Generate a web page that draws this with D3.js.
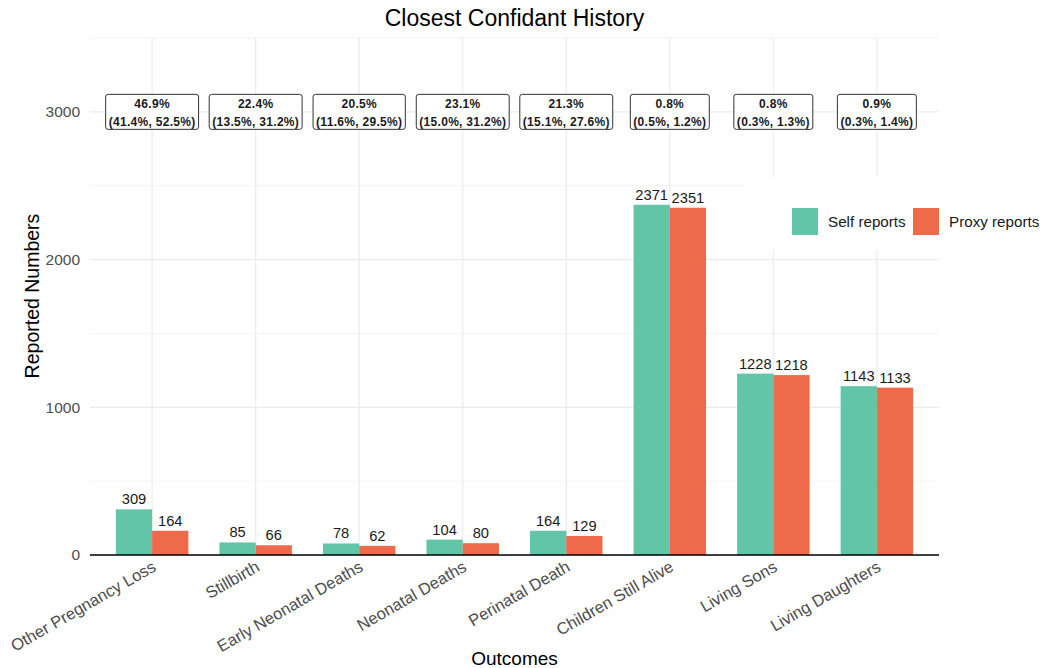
<!DOCTYPE html>
<html>
<head>
<meta charset="utf-8">
<script src="https://cdn.jsdelivr.net/npm/d3@7/dist/d3.min.js"></script>
<style>
  html, body { margin: 0; padding: 0; background: #fff; }
  svg { display: block; font-family: "Liberation Sans", Arial, sans-serif; }
</style>
</head>
<body>
<svg id="chart" width="1053" height="668"></svg>
<script>
// Outcome categories along the x axis
const outcomes = ["Other Pregnancy Loss", "Stillbirth", "Early Neonatal Deaths", "Neonatal Deaths",
  "Perinatal Death", "Children Still Alive", "Living Sons", "Living Daughters"];

// Reported counts per source
const selfReports = [309, 85, 78, 104, 164, 2371, 1228, 1143];
const proxyReports = [164, 66, 62, 80, 129, 2351, 1218, 1133];

// Agreement estimate and confidence interval for each outcome
const agreementPct = ["46.9%", "22.4%", "20.5%", "23.1%", "21.3%", "0.8%", "0.8%", "0.9%"];
const agreementCI = ["(41.4%, 52.5%)", "(13.5%, 31.2%)", "(11.6%, 29.5%)", "(15.0%, 31.2%)",
  "(15.1%, 27.6%)", "(0.5%, 1.2%)", "(0.3%, 1.3%)", "(0.3%, 1.4%)"];
const labelY = 3000;

const seriesNames = ["Self reports", "Proxy reports"];
const seriesColors = ["#62c5a8", "#ee6a4b"];
const yTicks = [0, 1000, 2000, 3000];
const yMinor = [500, 1500, 2500, 3500];

const svg = d3.select("#chart");
const W = 1053, H = 668;
const pLeft = 90, pRight = 939, pTop = 38, pBottom = 555;

// Discrete expansion: 0.6 of a step on each side
const x = d3.scaleBand().domain(outcomes).range([pLeft, pRight]).paddingInner(0).paddingOuter(0.1);
const cx = d => x(d) + x.bandwidth() / 2;

const y = d3.scaleLinear().domain([0, 3500]).range([pBottom, pTop]);

const dodge = x.bandwidth() * 0.7;
const xs = d3.scaleBand().domain(seriesNames).range([-dodge / 2, dodge / 2]);

// Grid
const grid = svg.append("g");
grid.selectAll(".minor").data(yMinor).join("line").attr("class", "minor")
  .attr("x1", pLeft).attr("x2", pRight)
  .attr("y1", d => y(d)).attr("y2", d => y(d))
  .attr("stroke", "#ebebeb").attr("stroke-width", 0.6);
grid.selectAll(".major").data(yTicks).join("line").attr("class", "major")
  .attr("x1", pLeft).attr("x2", pRight)
  .attr("y1", d => y(d)).attr("y2", d => y(d))
  .attr("stroke", "#ebebeb").attr("stroke-width", 1.2);
grid.selectAll(".vmajor").data(outcomes).join("line").attr("class", "vmajor")
  .attr("x1", d => cx(d)).attr("x2", d => cx(d))
  .attr("y1", pTop).attr("y2", pBottom)
  .attr("stroke", "#ebebeb").attr("stroke-width", 1.2);

// Bars
const rows = outcomes.map((o, i) => ({ outcome: o, values: [selfReports[i], proxyReports[i]] }));
const groups = svg.append("g").selectAll("g").data(rows).join("g")
  .attr("transform", d => `translate(${cx(d.outcome)},0)`);
groups.selectAll("rect").data(d => d.values.map((v, j) => ({ v, s: seriesNames[j], j })))
  .join("rect")
  .attr("x", d => xs(d.s)).attr("width", xs.bandwidth())
  .attr("y", d => y(d.v)).attr("height", d => y(0) - y(d.v))
  .attr("fill", d => seriesColors[d.j]);
groups.selectAll("text").data(d => d.values.map((v, j) => ({ v, s: seriesNames[j], j })))
  .join("text")
  .attr("x", d => xs(d.s) + xs.bandwidth() / 2)
  .attr("y", d => y(d.v) - 5)
  .attr("text-anchor", "middle")
  .attr("font-size", 14.7).attr("fill", "#1a1a1a")
  .text(d => d.v);

// Axis line at zero
svg.append("line").attr("x1", pLeft).attr("x2", pRight)
  .attr("y1", y(0)).attr("y2", y(0))
  .attr("stroke", "#000").attr("stroke-width", 1.4);

// Y axis
const yAxis = d3.axisLeft(y).tickValues(yTicks).tickFormat(d3.format("d")).tickSize(0).tickPadding(10);
const ya = svg.append("g").attr("transform", `translate(${pLeft},0)`).call(yAxis);
ya.select(".domain").remove();
ya.selectAll("text").attr("font-size", 15.5).attr("fill", "#4d4d4d")
  .attr("font-family", "Liberation Sans, Arial, sans-serif");

// X axis labels, rotated
const xa = svg.append("g");
xa.selectAll("text").data(outcomes).join("text")
  .attr("transform", d => `translate(${cx(d) + 5},${pBottom + 15}) rotate(-30)`)
  .attr("text-anchor", "end")
  .attr("font-size", 16.5).attr("fill", "#4d4d4d")
  .text(d => d);

// Agreement labels
const lab = svg.append("g").selectAll("g").data(outcomes).join("g")
  .attr("transform", d => `translate(${cx(d)},${y(labelY)})`);
lab.append("rect").attr("class", "box");
lab.append("text").attr("y", -4).attr("text-anchor", "middle")
  .attr("font-size", 12).attr("font-weight", "bold").attr("fill", "#1a1a1a")
  .attr("letter-spacing", 0.3)
  .text((d, i) => agreementPct[i]);
lab.append("text").attr("y", 14).attr("text-anchor", "middle")
  .attr("font-size", 12).attr("font-weight", "bold").attr("fill", "#1a1a1a")
  .attr("letter-spacing", 0.3)
  .attr("class", "ci")
  .text((d, i) => agreementCI[i]);
lab.each(function () {
  const g = d3.select(this);
  const w = g.select(".ci").node().getComputedTextLength() + 6;
  g.select(".box")
    .attr("x", -w / 2).attr("y", -17.5).attr("width", w).attr("height", 35)
    .attr("rx", 2.5).attr("fill", "#fff").attr("stroke", "#333").attr("stroke-width", 1);
});

// Legend
const leg = svg.append("g");
leg.append("rect").attr("x", 744).attr("y", 177).attr("width", W - 744).attr("height", 73).attr("fill", "#fff");
const legX = [792, 913];
seriesNames.forEach((s, i) => {
  leg.append("rect").attr("x", legX[i]).attr("y", 208).attr("width", 26).attr("height", 27)
    .attr("fill", seriesColors[i]);
  leg.append("text").attr("x", legX[i] + 36).attr("y", 222).attr("dy", "0.35em")
    .attr("font-size", 15.2).attr("fill", "#1a1a1a").text(s);
});

// Titles
svg.append("text").attr("x", (pLeft + pRight) / 2).attr("y", 26).attr("text-anchor", "middle")
  .attr("font-size", 23).attr("fill", "#000").text("Closest Confidant History");
svg.append("text").attr("x", (pLeft + pRight) / 2).attr("y", 665).attr("text-anchor", "middle")
  .attr("font-size", 19).attr("fill", "#000").text("Outcomes");
svg.append("text").attr("transform", `translate(39,296) rotate(-90)`)
  .attr("text-anchor", "middle")
  .attr("font-size", 19.5).attr("fill", "#000").text("Reported Numbers");
</script>
</body>
</html>
